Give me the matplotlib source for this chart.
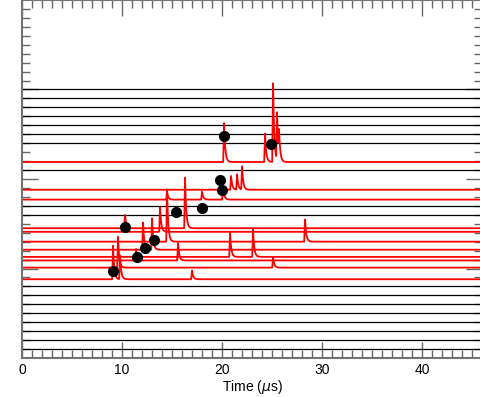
import numpy as np
import matplotlib
matplotlib.use("Agg")
import matplotlib.pyplot as plt

plt.rcParams['font.family'] = ['Liberation Sans', 'DejaVu Sans']

# channel rows (counted from the top, 40 rows in the panel)
n_rows = 40
empty_rows = [10, 11, 12, 13, 14, 15, 16, 19, 23, 24, 32, 33, 34, 35, 36, 37, 38, 39]

# rows with a signal: baseline row, peak times (us), peak heights (row units)
hit_base = [18.1, 21.2, 22.3, 25.5, 25.9, 27.0, 27.9, 28.7, 29.1, 29.9, 31.2]
hit_times = [
    [20.2, 24.3, 25.1, 25.5, 25.7],
    [20.9, 21.5, 22.0],
    [14.5, 18.0, 20.1],
    [10.3, 16.3],
    [13.8],
    [14.5, 28.3],
    [12.1, 13.0],
    [20.8, 23.1],
    [11.4, 15.6],
    [9.6, 25.1],
    [9.1, 9.8, 17.0],
]
hit_heights = [
    [4.5, 3.3, 9.2, 5.5, 2.7],
    [1.6, 1.8, 2.7],
    [0.9, 0.9, 1.5],
    [1.5, 5.8],
    [2.8],
    [6.0, 2.6],
    [3.1, 3.6],
    [2.8, 3.2],
    [1.3, 2.0],
    [3.5, 1.2],
    [3.8, 2.7, 1.0],
]

# reconstructed hit times (us) and their row positions
dot_t = [20.2, 24.9, 19.8, 20.0, 10.3, 15.4, 18.0, 13.2, 12.3, 11.5, 9.1]
dot_row = [15.2, 16.1, 20.1, 21.2, 25.4, 23.7, 23.2, 26.8, 27.7, 28.7, 30.3]

t = np.linspace(0, 46, 4600)

fig = plt.figure(figsize=(4.8, 3.97), dpi=100)
ax = fig.add_axes([22 / 480, 1 - 358 / 397, 460 / 480, 358 / 397])

for r in empty_rows:
    ax.axhline(n_rows - r, color='black', lw=0.9)

for base, times, heights in zip(hit_base, hit_times, hit_heights):
    trace = np.zeros_like(t)
    for tp, h in zip(times, heights):
        rise = np.clip((t - tp + 0.08) / 0.08, 0, 1)
        fall = np.exp(-np.clip(t - tp, 0, None) / 0.12)
        trace += h * rise * fall
    ax.plot(t, n_rows - base + trace, color='red', lw=1.3)

ax.plot(dot_t, [n_rows - r for r in dot_row], 'o', color='black', ms=7)

ax.set_xlim(0, 46)
ax.set_ylim(0, n_rows)
ax.set_xticks([0, 10, 20, 30, 40])
ax.set_xticks(np.arange(0, 47, 1), minor=True)
ax.set_yticks([10, 20, 30])
ax.set_yticks(np.arange(1, 40, 1), minor=True)
ax.set_yticklabels([])
ax.tick_params(which='both', direction='in', top=True, right=True, labelsize=10, color='0.4')
ax.tick_params(which='major', length=11.5, width=1.0)
ax.tick_params(which='minor', length=5.8, width=1.0)
for s in ax.spines.values():
    s.set_color('0.45')
    s.set_linewidth(1.5)
ax.set_xlabel(r'Time ($\mu$s)', fontsize=10, labelpad=1)

fig.savefig('out.png', dpi=100)
